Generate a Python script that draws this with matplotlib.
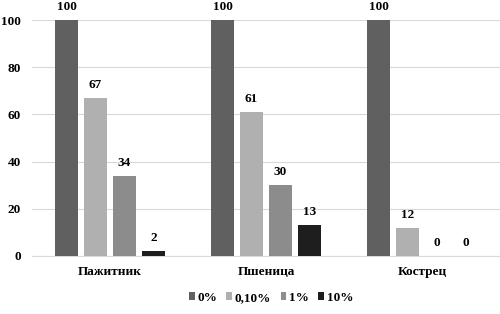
import numpy as np
import matplotlib.pyplot as plt

plt.rcParams['font.family'] = ['Liberation Serif']
plt.rcParams['font.weight'] = 'bold'

categories = ['Пажитник', 'Пшеница', 'Кострец']
series_names = ['0%', '0,10%', '1%', '10%']
values = [
    [100, 100, 100],
    [67, 61, 12],
    [34, 30, 0],
    [2, 13, 0],
]
colors = ['#606060', '#b0b0b0', '#8c8c8c', '#1e1e1e']

fig = plt.figure(figsize=(5, 3.14), dpi=100)
ax = fig.add_axes([0.064, 0.185, 0.936, 0.751])

x = np.arange(len(categories))
step = 0.186
width = 0.142
for i, (name, vals) in enumerate(zip(series_names, values)):
    pos = x + (i - 1.5) * step
    bars = ax.bar(pos, vals, width, color=colors[i], label=name, zorder=3)
    for b, v in zip(bars, vals):
        ax.text(b.get_x() + b.get_width() / 2, v + 4.2, str(v),
                ha='center', va='baseline', fontsize=9.5, fontweight='bold',
                clip_on=False)

ax.set_xlim(-0.5, 2.5)
ax.set_ylim(0, 100)
ax.set_yticks([0, 20, 40, 60, 80, 100])
ax.set_xticks(x)
ax.set_xticklabels(categories, fontsize=9.5, fontweight='bold')
ax.tick_params(axis='y', labelsize=9.5, length=0, pad=8)
ax.tick_params(axis='x', length=0, pad=7)
ax.grid(axis='y', color='#d9d9d9', linewidth=0.8, zorder=0)
for s in ['top', 'right', 'left']:
    ax.spines[s].set_visible(False)
ax.spines['bottom'].set_color('#d9d9d9')

fig.legend(loc='lower center', bbox_to_anchor=(0.542, -0.005), ncol=4, frameon=False,
           fontsize=9.5, handlelength=0.45, handleheight=0.45, handletextpad=0.2,
           columnspacing=0.7)

fig.savefig('out.png', dpi=100)
